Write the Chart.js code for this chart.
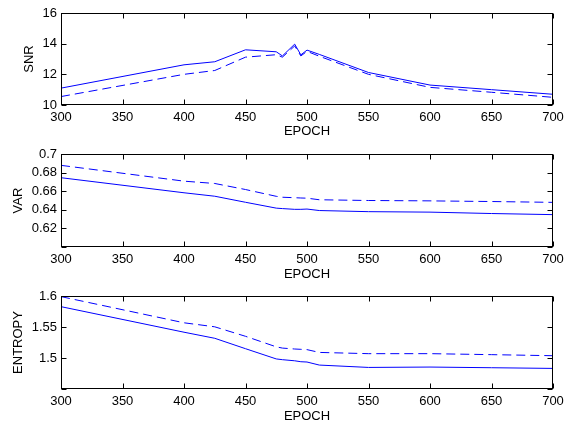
<!DOCTYPE html>
<html>
<head>
<meta charset="utf-8">
<script src="https://cdn.jsdelivr.net/npm/chart.js@4/dist/chart.umd.min.js"></script>
<style>
  body { margin: 0; background: #fff; }
  .panel { position: absolute; left: 0; }
  canvas { display: block; }
</style>
</head>
<body>
<div class="panel" style="top:0px"><canvas id="chart_snr" width="564" height="140"></canvas></div>
<div class="panel" style="top:140px"><canvas id="chart_var" width="564" height="142"></canvas></div>
<div class="panel" style="top:282px"><canvas id="chart_ent" width="564" height="143"></canvas></div>
<script>
// epochs shared by all three panels
var epochs     = [300, 400, 425, 450, 475, 480, 490, 495, 500, 510, 550, 600, 650, 700];

var snrSolid   = [11.1, 12.62, 12.82, 13.6, 13.47, 13.2, 13.97, 13.27, 13.58, 13.3, 12.12, 11.3, 11.0, 10.7];
var snrDashed  = [10.55, 12.0, 12.25, 13.12, 13.28, 13.12, 13.85, 13.2, 13.5, 13.18, 12.0, 11.15, 10.83, 10.5];

var varSolid   = [0.6745, 0.6583, 0.6546, 0.6481, 0.6418, 0.6413, 0.6405, 0.6405, 0.6408, 0.6392, 0.638, 0.6375, 0.636, 0.6348];
var varDashed  = [0.6878, 0.6708, 0.6683, 0.6618, 0.6545, 0.6535, 0.653, 0.6527, 0.6525, 0.6508, 0.65, 0.6496, 0.6489, 0.648];

var entSolid   = [1.5828, 1.5416, 1.5318, 1.515, 1.4985, 1.4973, 1.4955, 1.494, 1.4935, 1.4886, 1.4848, 1.4854, 1.4843, 1.4832];
var entDashed  = [1.599, 1.5568, 1.5503, 1.535, 1.518, 1.516, 1.5145, 1.514, 1.5135, 1.509, 1.507, 1.507, 1.5054, 1.5037];

var xTicks = [300, 350, 400, 450, 500, 550, 600, 650, 700];

var FONT = "'Liberation Sans', Arial, Helvetica, sans-serif";

function toPoints(xs, ys){
  return xs.map(function(x, i){ return {x: x, y: ys[i]}; });
}

// matlab style box with inward tick marks
var boxPlugin = {
  id: 'box',
  afterDatasetsDraw: function(chart){
    var ctx = chart.ctx, a = chart.chartArea;
    var sx = chart.scales.x, sy = chart.scales.y;
    var L = Math.round(a.left) + 0.5, R = Math.round(a.right) - 0.5;
    var T = Math.round(a.top) + 0.5, B = Math.round(a.bottom) - 0.5;
    ctx.save();
    ctx.strokeStyle = '#000';
    ctx.lineWidth = 1;
    ctx.beginPath();
    sx.ticks.forEach(function(t){
      var px = Math.round(sx.getPixelForValue(t.value)) + 0.5;
      ctx.moveTo(px, B); ctx.lineTo(px, B - 5);
      ctx.moveTo(px, T); ctx.lineTo(px, T + 5);
    });
    sy.ticks.forEach(function(t){
      var py = Math.round(sy.getPixelForValue(t.value)) + 0.5;
      ctx.moveTo(L, py); ctx.lineTo(L + 5, py);
      ctx.moveTo(R, py); ctx.lineTo(R - 5, py);
    });
    ctx.stroke();
    ctx.strokeRect(L, T, R - L, B - T);
    ctx.restore();
  }
};

function show_panel(canvas_id, yLabel, solid, dashed, yMin, yMax, yStep, cfg){
  var ctx = document.getElementById(canvas_id).getContext('2d');
  var chart = new Chart(ctx, {
    type: 'line',
    data: {
      datasets: [{
        data: toPoints(epochs, solid),
        borderColor: '#0000ff',
        borderWidth: 1,
        pointRadius: 0,
        tension: 0
      }, {
        data: toPoints(epochs, dashed),
        borderColor: '#0000ff',
        borderWidth: 1,
        borderDash: [9, 5],
        pointRadius: 0,
        tension: 0
      }]
    },
    options: {
      responsive: false,
      animation: false,
      devicePixelRatio: 1,
      layout: { padding: { top: cfg.top, right: 11, left: 0, bottom: 0 } },
      plugins: { legend: { display: false }, tooltip: { enabled: false } },
      scales: {
        x: {
          type: 'linear',
          min: 300, max: 700,
          afterBuildTicks: function(scale){
            scale.ticks = xTicks.map(function(v){ return {value: v}; });
          },
          grid: { display: false, drawTicks: false },
          border: { display: false },
          ticks: { color: '#000', padding: cfg.tickPad, maxRotation: 0, autoSkip: false,
                   font: { family: FONT, size: 13 } },
          title: { display: true, text: 'EPOCH', color: '#000',
                   padding: { top: 0, bottom: cfg.titlePad },
                   font: { family: FONT, size: 13, lineHeight: 1.2 } },
          afterFit: function(scale){
            scale.height = cfg.xHeight;
            scale.paddingLeft = 0;
            scale.paddingRight = 0;
          }
        },
        y: {
          min: yMin, max: yMax,
          grid: { display: false, drawTicks: false },
          border: { display: false },
          ticks: {
            stepSize: yStep, color: '#000', padding: 4,
            font: { family: FONT, size: 13 },
            callback: function(v){
              if (cfg.hideMin && Math.abs(v - yMin) < 1e-9) return '';
              return String(Math.round(v * 1000) / 1000);
            }
          },
          title: { display: true, text: yLabel, color: '#000',
                   padding: { top: cfg.yTitlePad, bottom: 0 },
                   font: { family: FONT, size: 13, lineHeight: 1.2 } },
          afterFit: function(scale){
            scale.width = 61;
            scale.paddingTop = 0;
            scale.paddingBottom = 0;
          }
        }
      }
    },
    plugins: [boxPlugin]
  });
  return chart;
}

show_panel('chart_snr', 'SNR', snrSolid, snrDashed, 10, 16, 2,
  { top: 13, xHeight: 35, tickPad: 5, titlePad: 1, yTitlePad: 21.5, hideMin: false });
show_panel('chart_var', 'VAR', varSolid, varDashed, 0.6, 0.7, 0.02,
  { top: 14, xHeight: 35, tickPad: 5, titlePad: 0, yTitlePad: 10.5, hideMin: true });
show_panel('chart_ent', 'ENTROPY', entSolid, entDashed, 1.45, 1.6, 0.05,
  { top: 14, xHeight: 36, tickPad: 5, titlePad: 0.5, yTitlePad: 10.5, hideMin: true });
</script>
</body>
</html>
